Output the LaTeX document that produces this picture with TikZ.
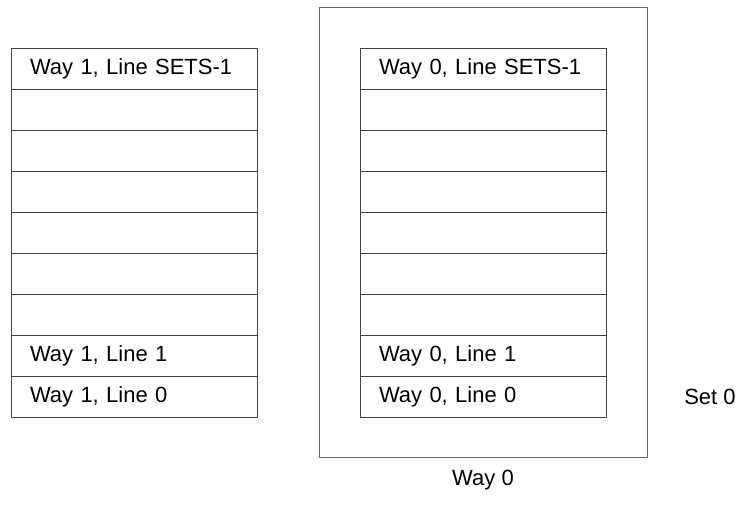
\documentclass[tikz,border=0pt]{standalone}
\usepackage{fontspec}
\setmainfont{Liberation Sans}
\usetikzlibrary{positioning}
\begin{document}
\begin{tikzpicture}[x=1pt, y=1pt, font=\fontsize{22}{26}\selectfont, line join=round]
	\def\w{246} \def\h{41}   % cell size
	\tikzset{cell/.style={draw=black!75, line width=0.9pt, rectangle, outer sep=0pt,
			minimum width=\w pt, minimum height=\h pt, inner xsep=19pt,
			text width=\w pt-38pt, align=left}}
	\useasboundingbox (0,0) rectangle (739,512);
	% outer box of way 0
	\node[draw=black!60, line width=0.9pt, minimum width=328pt, minimum height=450pt, outer sep=0pt] (way0) at (483,280) {};
	% the two ways, line 0 at the bottom
	\foreach \i/\t in {8/SETS-1, 7/, 6/, 5/, 4/, 3/, 2/, 1/1, 0/0}{
		\node[cell] (w1r\i) at (134,115.5+\h*\i) {\ifx\t\empty\strut\else Way 1, Line \t\fi};
		\node[cell] (w0r\i) at (483,115.5+\h*\i) {\ifx\t\empty\strut\else Way 0, Line \t\fi};
	}
	\node (waylabel) [below=10pt of way0] {Way 0};
	\node (setlabel) at (710,115.5) {Set 0};
\end{tikzpicture}
\end{document}
